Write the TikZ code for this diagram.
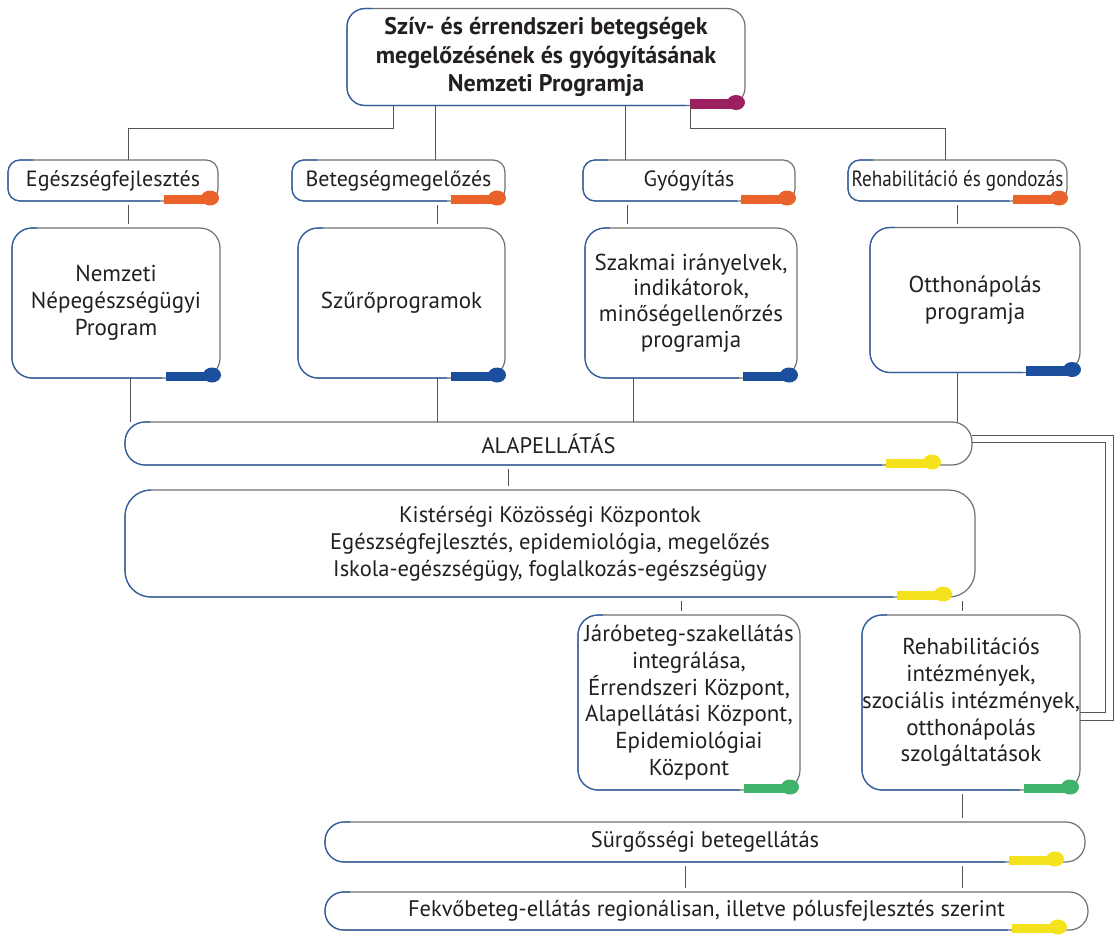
\documentclass[tikz,border=0pt]{standalone}
\usepackage{fontspec}
\setmainfont{PT Sans}
\definecolor{bordgray}{HTML}{707070}
\definecolor{bordblue}{HTML}{2F5FA8}
\definecolor{conncol}{HTML}{555555}
\definecolor{txt}{HTML}{231F20}
\definecolor{pinmaroon}{HTML}{9C1F5F}
\definecolor{pinorange}{HTML}{E8622A}
\definecolor{pinblue}{HTML}{1B4F9E}
\definecolor{pinyellow}{HTML}{F4E31C}
\definecolor{pingreen}{HTML}{3FB36C}
% #1 node, #2 pin colour, #3 corner radius, #4 pin offset from right edge
\newcommand\boxdeco[4]{%
  \draw[draw=bordblue, line width=1.2pt, rounded corners=#3]
    ([xshift=25pt]#1.north west) -- (#1.north west) -- (#1.south west) -- ([xshift=-50pt-#4]#1.south east);
  \fill[#2] ([xshift=-46pt-#4,yshift=6.5pt]#1.south east) rectangle ([xshift=-#4,yshift=-3pt]#1.south east);
  \fill[#2] ([xshift=-#4,yshift=3pt]#1.south east) ellipse [x radius=9pt, y radius=7.5pt];
}
\newcommand\fs[2]{\fontsize{#1}{#2}\selectfont}
\begin{document}
\begin{tikzpicture}[x=1pt,y=-1pt,
  every node/.style={text=txt, font=\fs{23}{26.8}, align=center},
  bx/.style={draw=bordgray, line width=1.2pt, rounded corners=#1, outer sep=0pt, inner sep=0pt},
  bx/.default=15pt,
  conn/.style={draw=conncol, line width=1pt},
  stub/.style={conn, shorten <=4pt, shorten >=4pt}]
\useasboundingbox (0,0) rectangle (1117,935);

% nodes
\node[bx=18pt, minimum width=398pt, minimum height=97pt,
      font=\bfseries\fs{24}{28.5}] (main) at (546,57)
  {Szív- és érrendszeri betegségek\\megelőzésének és gyógyításának\\Nemzeti Programja};

\node[bx=12pt, minimum width=210pt, minimum height=41pt, font=\fs{22}{26}] (e1) at (113,180.5) {Egészségfejlesztés};
\node[bx=12pt, minimum width=213pt, minimum height=41pt, font=\fs{22}{26}] (e2) at (398.5,180.5) {Betegségmegelőzés};
\node[bx=12pt, minimum width=212pt, minimum height=41pt, font=\fs{22}{26}] (e3) at (689,180.5) {Gyógyítás};
\node[bx=12pt, minimum width=219pt, minimum height=41pt, font=\fs{22}{26}] (e4) at (957.5,180.5) {\scalebox{0.87}[1]{Rehabilitáció és gondozás}};

\node[bx=20pt, minimum width=208pt, minimum height=150pt] (p1) at (116,303) {Nemzeti\\Népegészségügyi\\Program};
\node[bx=20pt, minimum width=207pt, minimum height=150pt] (p2) at (401.5,303) {Szűrőprogramok};
\node[bx=20pt, minimum width=212pt, minimum height=150pt, font=\fs{23}{25.8}] (p3) at (691,303) {Szakmai irányelvek,\\indikátorok,\\minőségellenőrzés\\programja};
\node[bx=20pt, minimum width=210pt, minimum height=145pt] (p4) at (975,300) {Otthonápolás\\programja};

\node[bx=20pt, minimum width=847pt, minimum height=43pt, font=\fs{22.5}{27}] (alap) at (548.5,443.5) {ALAPELLÁTÁS};
\node[bx=26pt, minimum width=850pt, minimum height=107pt, font=\fs{22.5}{27}] (kis) at (550,543.5)
  {Kistérségi Közösségi Központok\\Egészségfejlesztés, epidemiológia, megelőzés\\Iskola-egészségügy, foglalkozás-egészségügy};

\node[bx=20pt, minimum width=222pt, minimum height=175pt] (jaro) at (689,702.5)
  {Járóbeteg-szakellátás\\integrálása,\\Érrendszeri Központ,\\Alapellátási Központ,\\Epidemiológiai\\Központ};
\node[bx=20pt, minimum width=218pt, minimum height=175pt] (rehi) at (971,702.5)
  {Rehabilitációs\\intézmények,\\szociális intézmények,\\otthonápolás\\szolgáltatások};

\node[bx=19pt, minimum width=760pt, minimum height=40pt, font=\fs{22.5}{26}] (surg) at (705,842) {Sürgősségi betegellátás};
\node[bx=18.5pt, minimum width=763pt, minimum height=38pt, font=\fs{22.5}{27}] (fekvo) at (706.5,911)
  {Fekvőbeteg-ellátás regionálisan, illetve pólusfejlesztés szerint};

% decorations (blue edge + pin)
\boxdeco{main}{pinmaroon}{18pt}{9pt}
\boxdeco{e1}{pinorange}{12pt}{8pt}
\boxdeco{e2}{pinorange}{12pt}{8pt}
\boxdeco{e3}{pinorange}{12pt}{8pt}
\boxdeco{e4}{pinorange}{12pt}{8pt}
\boxdeco{p1}{pinblue}{20pt}{8pt}
\boxdeco{p2}{pinblue}{20pt}{8pt}
\boxdeco{p3}{pinblue}{20pt}{8pt}
\boxdeco{p4}{pinblue}{20pt}{8pt}
\boxdeco{alap}{pinyellow}{20pt}{40pt}
\boxdeco{kis}{pinyellow}{26pt}{32pt}
\boxdeco{jaro}{pingreen}{20pt}{10pt}
\boxdeco{rehi}{pingreen}{20pt}{10pt}
\boxdeco{surg}{pinyellow}{19pt}{30pt}
\boxdeco{fekvo}{pinyellow}{18.5pt}{30pt}

% connector x positions
\coordinate (xa) at (393,0);
\coordinate (xb) at (435,0);
\coordinate (xc) at (625,0);
\coordinate (xd) at (690,0);
\coordinate (xe1) at (128,0);
\coordinate (xe4) at (945,0);
\coordinate (xq1) at (130,0);
\coordinate (xq2) at (437,0);
\coordinate (xq3) at (627,0);
\coordinate (xq3b) at (633,0);
\coordinate (xq4) at (957,0);
\coordinate (xk) at (508,0);
\coordinate (xj) at (681,0);
\coordinate (xr) at (962,0);
\coordinate (xs) at (685,0);

% connectors
\draw[conn] (main.south -| xa) -- ++(0,23) -| (e1.north -| xe1);
\draw[conn] (main.south -| xb) -- (e2.north -| xb);
\draw[conn] (main.south -| xc) -- (e3.north -| xc);
\draw[conn] (main.south -| xd) -- ++(0,23) -| (e4.north -| xe4);

\draw[stub] (e1.south -| xe1) -- (p1.north -| xe1);
\draw[stub] (e2.south -| xq2) -- (p2.north -| xq2);
\draw[stub] (e3.south -| xq3) -- (p3.north -| xq3);
\draw[stub] (e4.south -| xq4) -- (p4.north -| xq4);

\draw[conn] (p1.south -| xq1) -- (alap.north -| xq1);
\draw[conn] (p2.south -| xq2) -- (alap.north -| xq2);
\draw[conn] (p3.south -| xq3b) -- (alap.north -| xq3b);
\draw[conn] (p4.south -| xq4) -- (alap.north -| xq4);

\draw[stub] (alap.south -| xk) -- (kis.north -| xk);
\draw[stub] (kis.south -| xj) -- (jaro.north -| xj);
\draw[stub] (kis.south -| xr) -- (rehi.north -| xr);
\draw[stub] (rehi.south -| xr) -- (surg.north -| xr);
\draw[stub] (surg.south -| xs) -- (fekvo.north -| xs);
\draw[stub] (surg.south -| xr) -- (fekvo.north -| xr);

\draw[conn] ([yshift=8.5pt]alap.east) -- ++(141,0) |- ([yshift=-17.5pt]rehi.east);
\draw[conn] ([yshift=1.5pt]alap.east) -- ++(133,0) |- ([yshift=-9.5pt]rehi.east);
\end{tikzpicture}
\end{document}
